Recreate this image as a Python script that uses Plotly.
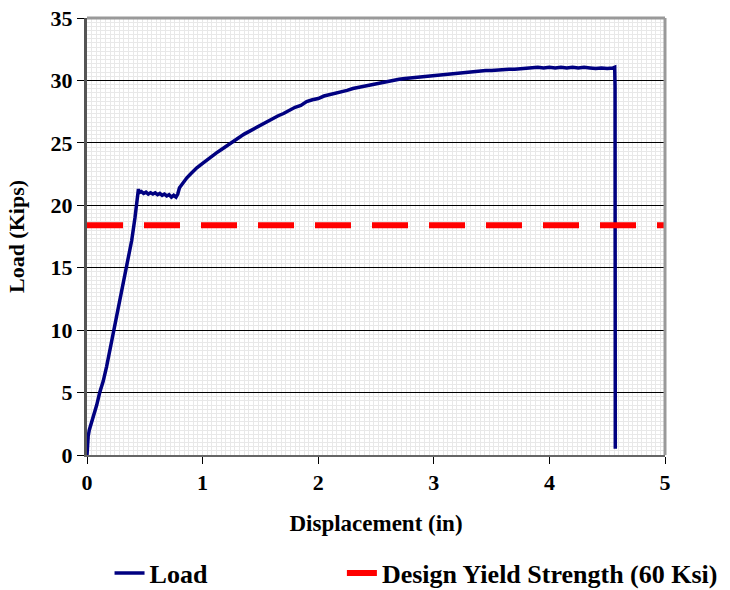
import plotly.graph_objects as go

# Load-displacement data
displacement = [0.000, 0.004, 0.010, 0.020, 0.040, 0.060, 0.084, 0.110, 0.140, 0.170,
                0.200, 0.237, 0.270, 0.300, 0.344, 0.387, 0.415, 0.435, 0.445, 0.450,
                0.470, 0.490, 0.510, 0.530, 0.550, 0.570, 0.590, 0.610, 0.630, 0.650,
                0.670, 0.690, 0.710, 0.730, 0.750, 0.770, 0.785, 0.800, 0.830, 0.864,
                0.900, 0.950, 1.000, 1.040, 1.080, 1.120, 1.160, 1.200, 1.240, 1.280,
                1.320, 1.360, 1.400, 1.450, 1.500, 1.550, 1.600, 1.650, 1.700, 1.750,
                1.800, 1.850, 1.900, 1.950, 2.000, 2.050, 2.100, 2.150, 2.200, 2.250,
                2.300, 2.350, 2.400, 2.450, 2.500, 2.550, 2.600, 2.650, 2.700, 2.750,
                2.800, 2.850, 2.900, 2.950, 3.000, 3.050, 3.100, 3.150, 3.200, 3.250,
                3.300, 3.350, 3.400, 3.450, 3.500, 3.550, 3.600, 3.650, 3.700, 3.750,
                3.800, 3.850, 3.900, 3.950, 4.000, 4.050, 4.100, 4.150, 4.200, 4.250,
                4.300, 4.350, 4.400, 4.450, 4.500, 4.550, 4.565, 4.568, 4.570]
load = [0.0, 1.0, 1.5, 2.0, 2.6, 3.3, 4.0, 5.0, 5.9, 7.1,
        8.5, 10.0, 11.6, 13.0, 15.1, 17.2, 19.0, 20.4, 21.3, 21.0,
        21.1, 20.95, 21.05, 20.9, 21.0, 20.9, 21.0, 20.85, 20.95, 20.8,
        20.9, 20.75, 20.85, 20.65, 20.8, 20.65, 20.9, 21.4, 21.8, 22.2,
        22.55, 23.0, 23.35, 23.65, 23.9, 24.2, 24.45, 24.7, 24.95, 25.25,
        25.45, 25.7, 25.9, 26.15, 26.4, 26.7, 26.9, 27.15, 27.35, 27.6,
        27.85, 28.0, 28.3, 28.45, 28.55, 28.75, 28.85, 29.0, 29.1, 29.2,
        29.35, 29.45, 29.55, 29.65, 29.75, 29.85, 29.9, 30.0, 30.1, 30.15,
        30.2, 30.25, 30.3, 30.3, 30.35, 30.45, 30.5, 30.5, 30.6, 30.65,
        30.7, 30.7, 30.75, 30.8, 30.8, 30.85, 30.85, 30.9, 30.9, 30.95,
        31.0, 31.0, 31.05, 31.0, 31.05, 31.0, 31.05, 31.0, 31.05, 31.0,
        31.05, 31.0, 30.95, 31.0, 30.95, 31.0, 31.05, 29.5, 0.5]

yield_x = [0, 5]
yield_load = [18.4, 18.4]

x_ticks = [0, 1, 2, 3, 4, 5]
y_ticks = [0, 5, 10, 15, 20, 25, 30, 35]

FONT = "Liberation Serif"

fig = go.Figure()
fig.add_trace(go.Scatter(x=displacement, y=load, mode="lines", name="Load",
                         legend="legend",
                         line=dict(color="#000080", width=3.5)))
fig.add_trace(go.Scatter(x=yield_x, y=yield_load, mode="lines",
                         name="Design Yield Strength (60 Ksi)", legend="legend2",
                         line=dict(color="#FF0000", width=6, dash="36px,21px")))

legend_common = dict(orientation="h", y=-0.27, xanchor="left", yanchor="middle",
                     font=dict(family=FONT, size=26, color="black", weight="bold"),
                     bgcolor="rgba(0,0,0,0)", borderwidth=0)

fig.update_layout(
    width=730, height=590,
    margin=dict(l=87, r=65, t=18, b=135, autoexpand=False),
    paper_bgcolor="white", plot_bgcolor="white",
    font=dict(family=FONT, color="black", weight="bold"),
    showlegend=True,
    legend=dict(x=0.039, **legend_common),
    legend2=dict(x=0.441, **legend_common),
    xaxis=dict(
        range=[0, 5], tickvals=x_ticks, ticks="outside", ticklen=7, tickcolor="black",
        tickwidth=1, showline=True, linecolor="#666666", linewidth=2,
        showgrid=False, zeroline=False, automargin=False,
        tickfont=dict(family=FONT, size=22, weight="bold"),
        title=dict(text="Displacement (in)", font=dict(family=FONT, size=23, weight="bold"),
                   standoff=20),
        minor=dict(dtick=0.04, showgrid=True, gridcolor="#e8e8e8", gridwidth=1, ticks=""),
    ),
    yaxis=dict(
        range=[0, 35], tickvals=y_ticks, ticks="outside", ticklen=7, tickcolor="black",
        tickwidth=1, showline=True, linecolor="#555555", linewidth=3,
        showgrid=True, gridcolor="black", gridwidth=1, zeroline=False, automargin=False,
        tickfont=dict(family=FONT, size=22, weight="bold"),
        title=dict(text="Load (Kips)", font=dict(family=FONT, size=22, weight="bold"),
                   standoff=20),
        minor=dict(dtick=1/3, showgrid=True, gridcolor="#e8e8e8", gridwidth=1, ticks=""),
    ),
    shapes=[
        dict(type="line", xref="paper", yref="paper", x0=0, x1=1, y0=1, y1=1,
             line=dict(color="#999999", width=3)),
        dict(type="line", xref="paper", yref="paper", x0=1, x1=1, y0=0, y1=1,
             line=dict(color="#999999", width=3)),
    ],
)

fig.write_html("out.html", config={"displayModeBar": False},
               post_script="document.body.style.margin='0';document.body.style.overflow='hidden';")
